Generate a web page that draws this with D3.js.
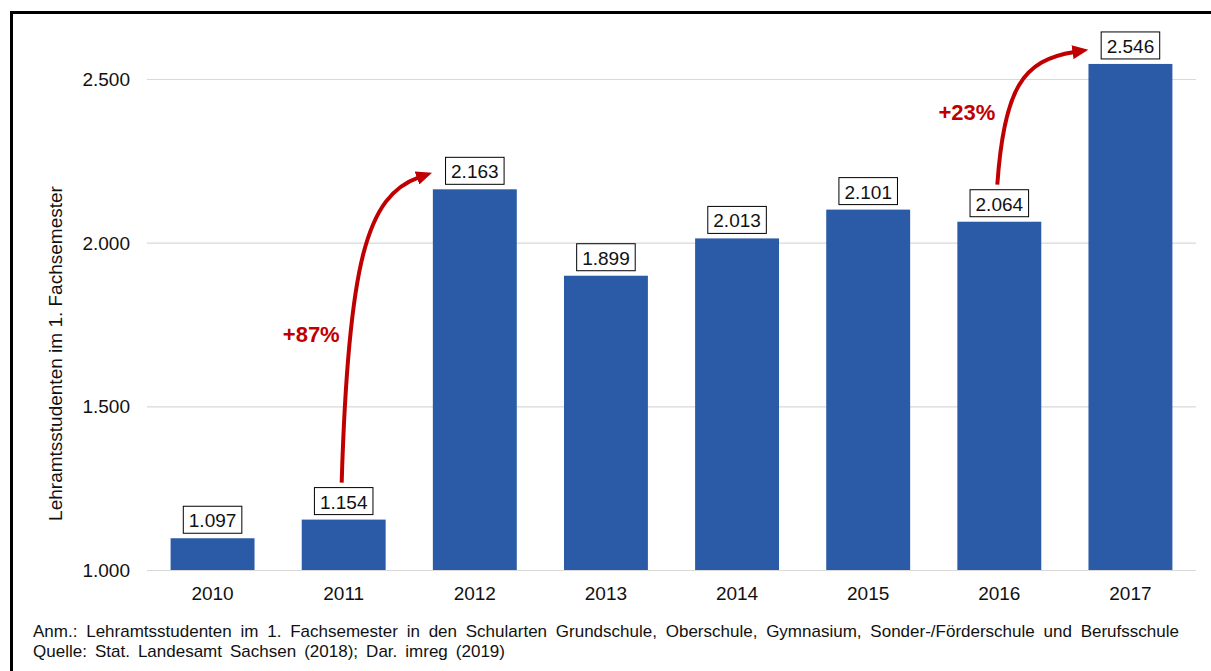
<!DOCTYPE html>
<html>
<head>
<meta charset="utf-8">
<script src="https://cdn.jsdelivr.net/npm/d3@7"></script>
<style>
  body { margin: 0; background: #fff; }
  text { font-family: "Liberation Sans", Arial, sans-serif; }
</style>
</head>
<body>
<svg id="chart"></svg>
<script>
// data
const years = ["2010", "2011", "2012", "2013", "2014", "2015", "2016", "2017"];
const students = [1097, 1154, 2163, 1899, 2013, 2101, 2064, 2546];
const yTicks = [1000, 1500, 2000, 2500];
const growth = [
  { from: "2011", to: "2012", label: "+87%", labelAt: 1696 },
  { from: "2016", to: "2017", label: "+23%", labelAt: 2374 }
];
const yTitle = "Lehramtsstudenten im 1. Fachsemester";
const notes = [
  "Anm.: Lehramtsstudenten  im 1. Fachsemester in den Schularten Grundschule, Oberschule, Gymnasium, Sonder-/Förderschule und Berufsschule",
  "Quelle: Stat. Landesamt Sachsen (2018); Dar. imreg (2019)"
];
const noteWidths = [1150, 472];

const width = 1211, height = 671;
const barColor = "#2b5ba7", red = "#c00000";

const svg = d3.select("#chart")
    .attr("width", width)
    .attr("height", height)
    .attr("viewBox", [0, 0, width, height]);

// black frame, open to the right and bottom
svg.append("rect")
    .attr("x", 11.5).attr("y", 12.5)
    .attr("width", 1400).attr("height", 800)
    .attr("fill", "none").attr("stroke", "#000").attr("stroke-width", 3);

const x = d3.scaleBand(years, [147, 1196]).paddingInner(0.36).paddingOuter(0.18);
const y = d3.scaleLinear([1000, 2500], [570, 79]);

// grid + y labels
svg.append("g")
  .selectAll("line")
  .data(yTicks)
  .join("line")
    .attr("x1", 147).attr("x2", 1196)
    .attr("y1", d => y(d) + 0.5).attr("y2", d => y(d) + 0.5)
    .attr("stroke", "#d9d9d9").attr("stroke-width", 1.2);

svg.append("g")
  .selectAll("text")
  .data(yTicks)
  .join("text")
    .attr("x", 130).attr("y", d => y(d))
    .attr("dy", "0.36em")
    .attr("text-anchor", "end")
    .attr("font-size", 19)
    .attr("fill", "#111")
    .text(d => d3.format(",")(d).replace(",", "."));

svg.append("text")
    .attr("transform", `translate(62,${(y(1000) + y(2500)) / 2 + 29}) rotate(-90)`)
    .attr("text-anchor", "middle")
    .attr("font-size", 19)
    .attr("fill", "#111")
    .text(yTitle);

// bars
svg.append("g")
  .selectAll("rect")
  .data(years)
  .join("rect")
    .attr("x", d => x(d))
    .attr("width", x.bandwidth())
    .attr("y", (d, i) => y(students[i]))
    .attr("height", (d, i) => y(1000) - y(students[i]))
    .attr("fill", barColor);

// x labels
svg.append("g")
  .selectAll("text")
  .data(years)
  .join("text")
    .attr("x", d => x(d) + x.bandwidth() / 2)
    .attr("y", y(1000) + 30)
    .attr("text-anchor", "middle")
    .attr("font-size", 19)
    .attr("fill", "#111")
    .text(d => d);

// boxed value labels
const fmt = v => d3.format(",")(v).replace(",", ".");
const lab = svg.append("g")
  .selectAll("g")
  .data(years)
  .join("g")
    .attr("transform", (d, i) => `translate(${x(d) + x.bandwidth() / 2},${y(students[i])})`);

lab.append("text")
    .attr("y", -11)
    .attr("text-anchor", "middle")
    .attr("font-size", 19)
    .attr("fill", "#111")
    .text((d, i) => fmt(students[i]));

lab.each(function () {
  const g = d3.select(this);
  const w = g.select("text").node().getComputedTextLength() + 11;
  g.insert("rect", "text")
      .attr("x", -w / 2).attr("y", -32)
      .attr("width", w).attr("height", 27)
      .attr("fill", "#fff").attr("stroke", "#000").attr("stroke-width", 1);
});

// growth arrows
svg.append("defs").append("marker")
    .attr("id", "head")
    .attr("viewBox", "0 0 16 14")
    .attr("refX", 2).attr("refY", 7)
    .attr("markerWidth", 16).attr("markerHeight", 14)
    .attr("markerUnits", "userSpaceOnUse")
    .attr("orient", "auto")
  .append("path")
    .attr("d", "M0,0L16,7L0,14Z")
    .attr("fill", red);

const value = yr => students[years.indexOf(yr)];

growth.forEach(a => {
  const x0 = x(a.from) + x.bandwidth() / 2 - 2, y0 = y(value(a.from)) - 37;
  const x1 = x(a.to) - 14, y1 = y(value(a.to)) - 12;
  const dx = x1 - x0, dy = y1 - y0;
  const p = d3.path();
  p.moveTo(x0, y0);
  p.bezierCurveTo(x0 + 0.085 * dx, y0 + 0.725 * dy, x0 + 0.33 * dx, y0 + 0.94 * dy, x1, y1);
  svg.append("path")
      .attr("d", p.toString())
      .attr("fill", "none")
      .attr("stroke", red)
      .attr("stroke-width", 4)
      .attr("marker-end", "url(#head)");
  svg.append("text")
      .attr("x", x0 - 2)
      .attr("y", y(a.labelAt))
      .attr("text-anchor", "end")
      .attr("font-size", 22)
      .attr("font-weight", "bold")
      .attr("fill", red)
      .text(a.label);
});

// footnotes, stretched by word spacing
svg.append("g")
  .selectAll("text")
  .data(notes)
  .join("text")
    .attr("x", 33)
    .attr("y", (d, i) => 637 + i * 20)
    .attr("font-size", 17)
    .attr("fill", "#111")
    .text(d => d)
    .each(function (d, i) {
      const gaps = d.split(" ").length - 1;
      const extra = (noteWidths[i] - this.getComputedTextLength()) / gaps;
      if (extra > 0) d3.select(this).attr("word-spacing", extra);
    });
</script>
</body>
</html>
